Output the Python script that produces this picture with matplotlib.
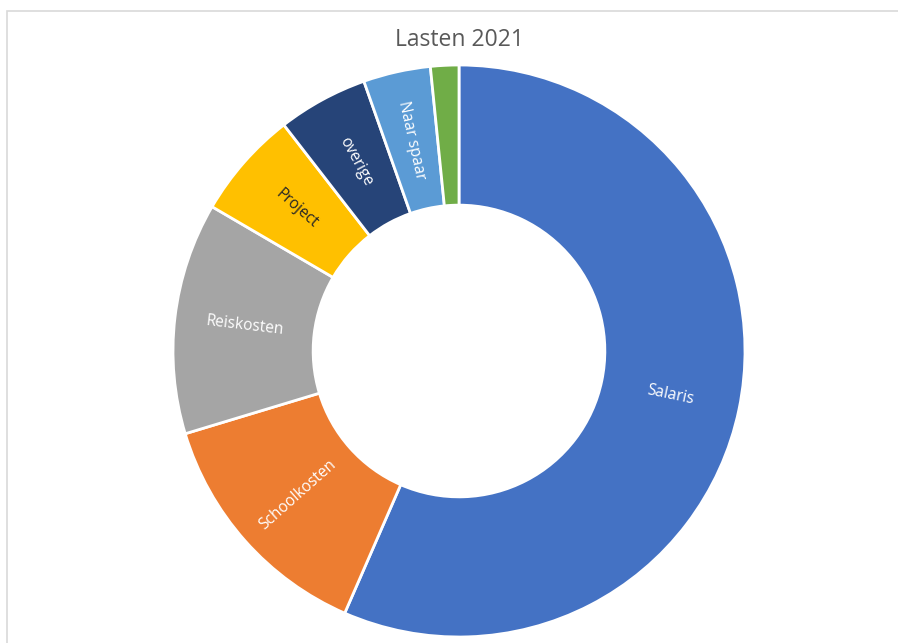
import numpy as np
import matplotlib.pyplot as plt
from matplotlib.patches import Rectangle

categorieen = ["Salaris", "Schoolkosten", "Reiskosten", "Project", "overige", "Naar spaar", "Overig"]
waarden = [56.6, 13.8, 13.1, 6.1, 5.1, 3.8, 1.6]
kleuren = ["#4472C4", "#ED7D31", "#A5A5A5", "#FFC000", "#264478", "#5B9BD5", "#70AD47"]
tekstkleur = ["white", "white", "white", "#262626", "white", "white", "white"]

plt.rcParams['font.family'] = ['Open Sans', 'DejaVu Sans']

fig = plt.figure(figsize=(8.98, 6.43), dpi=100)
fig.patches.append(Rectangle((7 / 898, -0.1), 1.2, (643 - 11) / 643 + 0.1,
                             transform=fig.transFigure, fill=False,
                             edgecolor="#D9D9D9", linewidth=1.2))

ax = fig.add_axes([173 / 898, 6 / 643, 572 / 898, 572 / 643])
wedges, _ = ax.pie(waarden, colors=kleuren, startangle=90, counterclock=False,
                   radius=1, wedgeprops=dict(width=0.49, edgecolor="white", linewidth=2))
ax.set_xlim(-1, 1)
ax.set_ylim(-1, 1)
ax.set_aspect("equal")

totaal = sum(waarden)
for w, naam, kl, v in zip(wedges, categorieen, tekstkleur, waarden):
    if v / totaal < 0.02:
        continue
    hoek = (w.theta1 + w.theta2) / 2
    r = 0.755
    x = r * np.cos(np.radians(hoek))
    y = r * np.sin(np.radians(hoek))
    rot = hoek
    if rot > 90:
        rot -= 180
    if rot < -90:
        rot += 180
    ax.text(x, y, naam, ha="center", va="center", rotation=rot,
            rotation_mode="anchor", color=kl, fontsize=11.2)

fig.text(459 / 898, 1 - 40 / 643, "Lasten 2021", ha="center", va="center",
         fontsize=16.5, color="#595959")

fig.savefig("out.png", dpi=100)
